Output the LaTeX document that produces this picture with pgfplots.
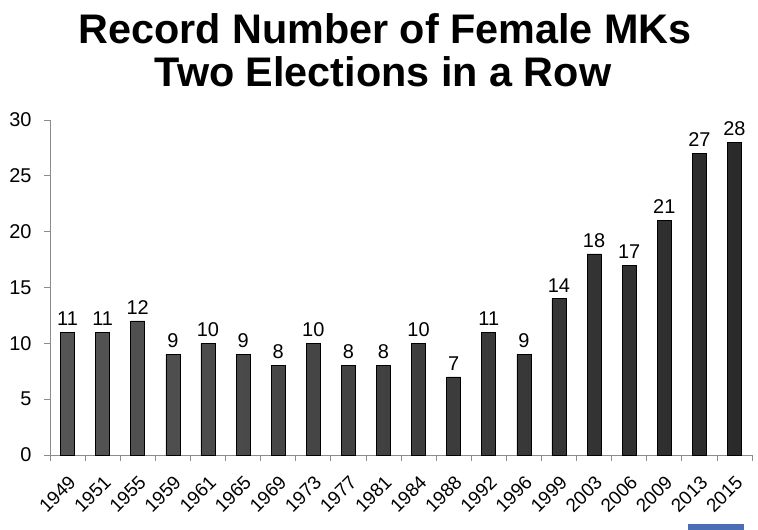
\documentclass[border=0pt]{standalone}
\usepackage{pgfplots}
\pgfplotsset{compat=1.18}
\usepackage{fontspec}
\setmainfont{Liberation Sans}
\definecolor{axisgray}{HTML}{8C8C8C}
\definecolor{barleft}{HTML}{555555}
\definecolor{barright}{HTML}{2A2A2A}
\definecolor{bluebox}{HTML}{4A6FB5}
\begin{document}
\begin{tikzpicture}[x=1bp,y=1bp]
\path[use as bounding box] (-50,-75) rectangle (708,455);
\begin{axis}[
  at={(0,0)}, anchor=south west,
  scale only axis, width=702bp, height=335bp,
  xmin=-0.5, xmax=19.5, ymin=0, ymax=30,
  ytick={0,5,...,30},
  xtick={0,...,19},
  xticklabels={1949,1951,1955,1959,1961,1965,1969,1973,1977,1981,1984,1988,1992,1996,1999,2003,2006,2009,2013,2015},
  minor xtick={-0.5,0.5,...,19.5},
  major x tick style={draw=none},
  axis x line*=bottom, axis y line*=left,
  tick align=outside,
  axis line style={axisgray, line width=0.8bp},
  tick style={axisgray, line width=0.8bp},
  major tick length=6bp, minor tick length=6bp,
  /pgf/number format/assume math mode=true,
  x tick label style={yshift=-12bp, xshift=0bp, rotate=45, anchor=north east, font=\fontsize{19}{19}\selectfont, inner sep=1bp},
  y tick label style={font=\fontsize{20}{20}\selectfont, xshift=-9bp},
  ybar, bar width=14bp,
  nodes near coords,
  nodes near coords style={font=\fontsize{20}{20}\selectfont, black, yshift=3bp},
  clip=false,
]
\addplot[draw=black, line width=0.6bp, left color=barleft, right color=barright] coordinates {
(0,11) (1,11) (2,12) (3,9) (4,10) (5,9) (6,8) (7,10) (8,8) (9,8)
(10,10) (11,7) (12,11) (13,9) (14,14) (15,18) (16,17) (17,21) (18,27) (19,28)};
\end{axis}
\node[font=\bfseries\fontsize{41.5}{41.5}\selectfont, anchor=base] at (335,411) {Record Number of Female MKs};
\node[font=\bfseries\fontsize{41.5}{41.5}\selectfont, anchor=base] at (333,368) {Two Elections in a Row};
\fill[bluebox] (638,-75) rectangle (694,-69);
\end{tikzpicture}
\end{document}
